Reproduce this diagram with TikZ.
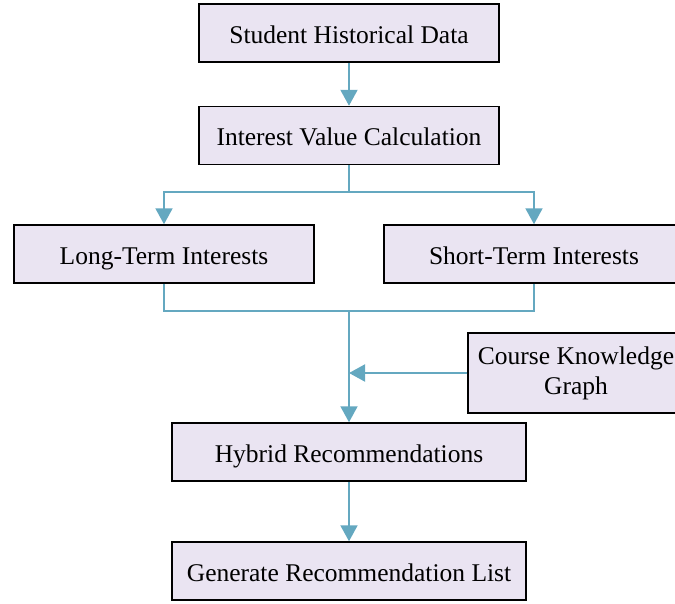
\documentclass[tikz,border=0pt]{standalone}
\usepackage{fontspec}
\setmainfont{Liberation Serif}
\usetikzlibrary{arrows.meta}
\definecolor{boxfill}{RGB}{234,228,242}
\definecolor{flow}{RGB}{100,168,192}
\tikzset{
  stepbox/.style={draw=black, fill=boxfill, line width=1.5pt, minimum height=58pt,
    inner sep=0pt, align=center, text height=22pt, text depth=2pt,
    font=\fontsize{25.5}{30}\selectfont},
  flowline/.style={draw=flow, line width=2pt},
  flowarrow/.style={flowline, -{Triangle[width=17pt,length=16pt]}}
}
\begin{document}
\begin{tikzpicture}[x=1pt,y=-1pt]
  \useasboundingbox (0,0) rectangle (675,603);
  \clip (0,0) rectangle (675,603);
  \node[stepbox, minimum width=300pt] (shd) at (349,33) {Student Historical Data};
  \node[stepbox, minimum width=300pt] (ivc) at (349,135.5) {Interest Value Calculation};
  \node[stepbox, minimum width=300pt] (lti) at (164,254) {Long-Term Interests};
  \node[stepbox, minimum width=300pt] (sti) at (534,254) {Short-Term Interests};
  \node[stepbox, minimum width=216pt, minimum height=80pt, text height=, text depth=] (ckg) at (576,373) {Course Knowledge\\Graph};
  \node[stepbox, minimum width=354pt] (hyb) at (349,452) {Hybrid Recommendations};
  \node[stepbox, minimum width=354pt] (gen) at (349,571) {Generate Recommendation List};

  \coordinate (split) at (349,192);
  \coordinate (join) at (349,311);
  \coordinate (side) at (349,373);

  \draw[flowarrow] (shd.south) -- (ivc.north);
  \draw[flowline] (ivc.south) -- (split);
  \draw[flowarrow] (split) -| (lti.north);
  \draw[flowarrow] (split) -| (sti.north);
  \draw[flowline] (lti.south) |- (join);
  \draw[flowline] (sti.south) |- (join);
  \draw[flowarrow] (join) -- (hyb.north);
  \draw[flowarrow] (ckg.west |- side) -- (side);
  \draw[flowarrow] (hyb.south) -- (gen.north);
\end{tikzpicture}
\end{document}
